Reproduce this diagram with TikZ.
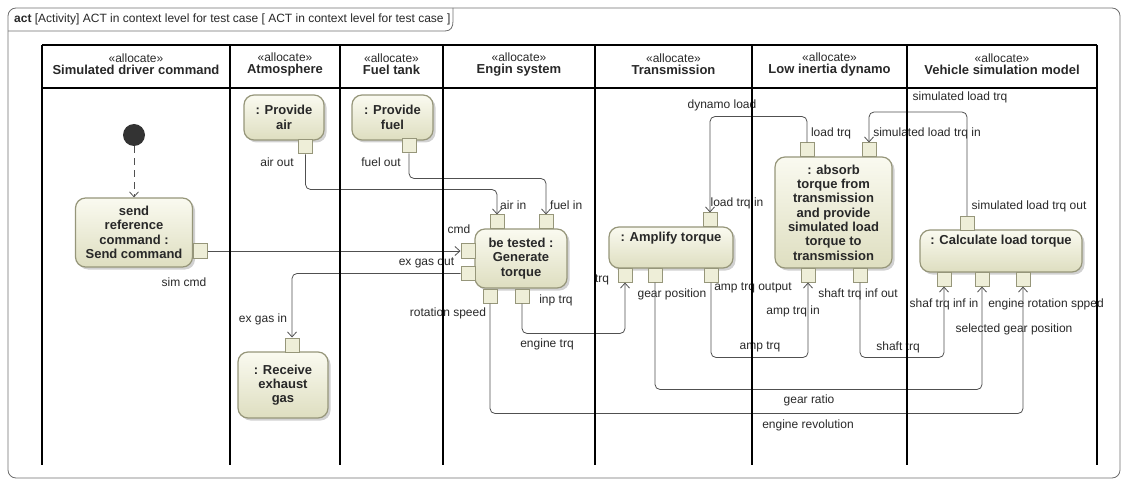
\documentclass[tikz,border=0pt]{standalone}
\usepackage{fontspec}
\setmainfont{Liberation Sans}
\usetikzlibrary{arrows.meta,shadows}
\definecolor{boxborder}{RGB}{150,150,122}
\definecolor{boxtop}{RGB}{250,250,240}
\definecolor{boxbot}{RGB}{222,222,192}
\definecolor{pinfill}{RGB}{238,238,216}
\definecolor{conn}{RGB}{80,80,80}
\definecolor{framec}{RGB}{110,110,110}
\definecolor{txt}{RGB}{40,40,40}
\tikzset{
  lbl/.style={font=\fontsize{12}{13}\selectfont, inner sep=0pt, text=txt},
  btxt/.style={font=\fontsize{13}{14.3}\selectfont\bfseries, align=center, inner sep=0pt, text=txt},
  actbox/.style={draw=boxborder, line width=1.2pt, rounded corners=10pt, top color=boxtop, bottom color=boxbot,
    drop shadow={shadow xshift=2.5pt, shadow yshift=-2.5pt, fill=black!40, opacity=0.45},
    align=center, font=\fontsize{13}{14.3}\selectfont\bfseries, text=txt, inner sep=2pt},
  pinbox/.style={draw=boxborder, line width=1pt, fill=pinfill, minimum size=14pt, inner sep=0pt},
  flow/.style={draw=conn, line width=0.8pt, rounded corners=5pt, -{Straight Barb[length=5pt,width=9pt]}},
  lane/.style={line width=2pt, black},
  hdr/.style={align=center, inner sep=0pt, text=txt},
}
\begin{document}
\begin{tikzpicture}[x=1pt,y=-1pt]
\useasboundingbox (0,0) rectangle (1126,486);
% frame
\draw[framec, line width=0.8pt, rounded corners=8pt] (8,8) rectangle (1120,478);
\draw[framec, line width=0.8pt] (8,31) -- (445,31) .. controls (451,31) and (453,27) .. (453,21) -- (453,8);
\node[lbl, anchor=west] (title) at (14,19) {\textbf{act} [Activity] ACT in context level for test case [ ACT in context level for test case ]};

% headers
\node[hdr] (h1) at (136,64.5) {{\fontsize{12}{15}\selectfont «allocate»}\\{\fontsize{13}{15}\selectfont\bfseries Simulated driver command}};
\node[hdr] (h2) at (285,64.5) {{\fontsize{12}{15}\selectfont «allocate»}\\{\fontsize{13}{15}\selectfont\bfseries Atmosphere}};
\node[hdr] (h3) at (391.5,64.5) {{\fontsize{12}{15}\selectfont «allocate»}\\{\fontsize{13}{15}\selectfont\bfseries Fuel tank}};
\node[hdr] (h4) at (519,64.5) {{\fontsize{12}{15}\selectfont «allocate»}\\{\fontsize{13}{15}\selectfont\bfseries Engin system}};
\node[hdr] (h5) at (673.5,64.5) {{\fontsize{12}{15}\selectfont «allocate»}\\{\fontsize{13}{15}\selectfont\bfseries Transmission}};
\node[hdr] (h6) at (829.5,64.5) {{\fontsize{12}{15}\selectfont «allocate»}\\{\fontsize{13}{15}\selectfont\bfseries Low inertia dynamo}};
\node[hdr] (h7) at (1002,64.5) {{\fontsize{12}{15}\selectfont «allocate»}\\{\fontsize{13}{15}\selectfont\bfseries Vehicle simulation model}};

% initial node and send command
\node[circle, fill=black!80, minimum size=22pt, inner sep=0pt] (init) at (134,135) {};
\node[actbox, minimum width=117pt, minimum height=69pt] (send) at (134,232.5) {send\\reference\\command :\\Send command};
\node[pinbox] (simcmd) at (200,251) {};
\node[lbl] (lsimcmd) at (184,282) {sim cmd};

% atmosphere, fuel
\node[actbox, minimum width=80pt, minimum height=45pt] (air) at (284,117.5) {: Provide\\air};
\node[pinbox] (airout) at (305.5,147) {};
\node[lbl] (lairout) at (277,162) {air out};
\node[actbox, minimum width=81pt, minimum height=45pt] (fuel) at (392.5,117.5) {: Provide\\fuel};
\node[pinbox] (fuelout) at (409,146) {};
\node[lbl] (lfuelout) at (381,162) {fuel out};

% engine
\node[actbox, minimum width=92pt, minimum height=59pt] (gen) at (521,258.5) {be tested :\\Generate\\torque};
\node[pinbox] (airin) at (497,222) {};
\node[pinbox] (fuelin) at (546,222) {};
\node[pinbox] (cmd) at (468,251) {};
\node[pinbox] (exgasout) at (468,273.5) {};
\node[pinbox] (rotspeed) at (490,296) {};
\node[pinbox] (inptrq) at (522,296) {};
\node[lbl, anchor=west] (lairin) at (500,205) {air in};
\node[lbl, anchor=west] (lfuelin) at (550,205) {fuel in};
\node[lbl] (lcmd) at (459,229) {cmd};
\node[lbl] (lexgasout) at (426.5,263) {ex gas out};
\node[lbl] (lrotspeed) at (448,313) {rotation speed};
\node[lbl] (linptrq) at (556,300) {inp trq};

% exhaust
\node[actbox, minimum width=90pt, minimum height=66pt] (exgas) at (283,385) {: Receive\\exhaust\\gas};
\node[pinbox] (exgasin) at (292,345) {};
\node[lbl] (lexgasin) at (263,319) {ex gas in};

% transmission
\node[actbox, minimum width=124pt, minimum height=41pt] (amp) at (671,247.5) {};
\node[btxt] (ampt) at (671,238) {: Amplify torque};
\node[pinbox] (loadtrqin) at (710,220) {};
\node[pinbox] (trq) at (625,275) {};
\node[pinbox] (gearpos) at (655,275) {};
\node[pinbox] (amptrqout) at (711,275) {};
\node[lbl] (lloadtrqin) at (737,203) {load trq in};
\node[lbl] (ltrq) at (602,280) {trq};
\node[lbl] (lgearpos) at (672,294) {gear position};
\node[lbl] (lamptrqout) at (753,288) {amp trq output};

% dynamo
\node[actbox, minimum width=117pt, minimum height=111pt] (abs) at (833.5,212.5) {: absorb\\torque from\\transmission\\and provide\\simulated load\\torque to\\transmission};
\node[pinbox] (loadtrq) at (807,150) {};
\node[pinbox] (simloadtrqin) at (869,150) {};
\node[pinbox] (amptrqin) at (808,275) {};
\node[pinbox] (shaftout) at (860,275) {};
\node[lbl] (lloadtrq) at (831,133) {load trq};
\node[lbl] (lsimloadtrqin) at (927,133) {simulated load trq in};
\node[lbl] (lamptrqin) at (793,311) {amp trq in};
\node[lbl] (lshaftout) at (858,294) {shaft trq inf out};

% vehicle model
\node[actbox, minimum width=162pt, minimum height=42pt] (calc) at (1001,251) {};
\node[btxt] (calct) at (1001,241) {: Calculate load torque};
\node[pinbox] (simout) at (967,223.5) {};
\node[pinbox] (shafin) at (944,279) {};
\node[pinbox] (selgear) at (982,279) {};
\node[pinbox] (engrot) at (1023,279) {};
\node[lbl] (lsimout) at (1029,206) {simulated load trq out};
\node[lbl] (lshafin) at (944,304) {shaf trq inf in};
\node[lbl] (lengrot) at (1046,304) {engine rotation spped};
\node[lbl] (lselgear) at (1014,329) {selected gear position};

% connectors
\draw[draw=conn, line width=0.8pt, dash pattern=on 7pt off 5pt, -{Straight Barb[length=5pt,width=9pt]}] (init.south) -- (send.north);
\draw[flow] (simcmd.east) -- (cmd.west);
\draw[flow] (airout.south) -- ++(0,35) -| (airin.north);
\draw[flow] (fuelout.south) -- ++(0,25) -| (fuelin.north);
\draw[flow] (exgasout.west) -| (exgasin.north);
\draw[flow] (inptrq.south) -- ++(0,30) -| (trq.south);
\draw[flow] (rotspeed.south) -- ++(0,110) -| (engrot.south);
\draw[flow] (gearpos.south) -- ++(0,107) -| (selgear.south);
\draw[flow] (amptrqout.south) -- ++(0,75) -| (amptrqin.south);
\draw[flow] (shaftout.south) -- ++(0,75) -| (shafin.south);
\draw[flow] (loadtrq.north) -- ++(0,-26) -| (loadtrqin.north);
\draw[flow] (simout.north) -- ++(0,-104) -| (simloadtrqin.north);

% connector labels
\node[lbl] (lenginetrq) at (547,344) {engine trq};
\node[lbl] (lengrev) at (808,425) {engine revolution};
\node[lbl] (lgearratio) at (809,400) {gear ratio};
\node[lbl] (lamptrq) at (760,347) {amp trq};
\node[lbl] (lshafttrq) at (898,347) {shaft trq};
\node[lbl] (ldynamo) at (722,105) {dynamo load};
\node[lbl] (lsimload) at (960,97) {simulated load trq};

% lanes
\draw[lane] (42,45) -- (1097,45);
\draw[lane] (42,88) -- (1097,88);
\foreach \lx in {42,230,340,443,595,752,907,1097} {
  \draw[lane] (\lx,45) -- (\lx,465);
}
\end{tikzpicture}
\end{document}
